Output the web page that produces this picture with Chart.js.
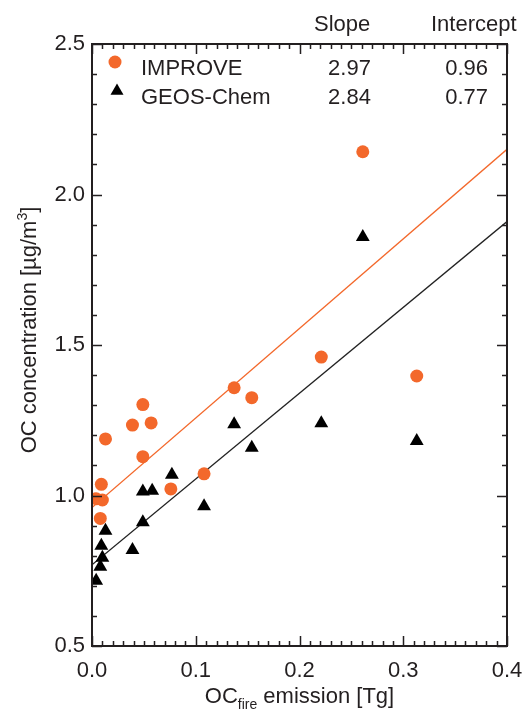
<!DOCTYPE html>
<html><head><meta charset="utf-8">
<script src="https://cdn.jsdelivr.net/npm/chart.js@4"></script>
<style>html,body{margin:0;padding:0;background:#fff}canvas{display:block}</style>
</head><body>
<div style="width:526px;height:709px"><canvas id="c" width="526" height="709"></canvas></div>
<script>
// ---- data ----
const improveX = [0.261, 0.137, 0.154, 0.221, 0.313, 0.049, 0.039, 0.057, 0.013, 0.049, 0.009, 0.004, 0.010, 0.008, 0.076, 0.108];
const improveY = [2.142, 1.358, 1.325, 1.460, 1.397, 1.302, 1.234, 1.241, 1.188, 1.129, 1.037, 0.989, 0.985, 0.924, 1.022, 1.072];
const geosX = [0.261, 0.137, 0.154, 0.221, 0.313, 0.077, 0.049, 0.058, 0.108, 0.049, 0.013, 0.009, 0.039, 0.010, 0.008, 0.004];
const geosY = [1.859, 1.237, 1.159, 1.240, 1.181, 1.069, 1.013, 1.016, 0.964, 0.911, 0.883, 0.833, 0.819, 0.793, 0.763, 0.717];
const fitX = [0.0, 0.4];
const improveFitY = [0.96, 2.15];
const geosFitY = [0.77, 1.91];
const xTicks = [0.0, 0.1, 0.2, 0.3, 0.4];
const yTicks = [0.5, 1.0, 1.5, 2.0, 2.5];
const seriesNames = ['IMPROVE', 'GEOS-Chem'];
const slopes = ['2.97', '2.84'];
const intercepts = ['0.96', '0.77'];
const headers = ['Slope', 'Intercept'];

const ORANGE = '#f3682b';
const BLACK = '#000000';
const TXT = '#231f20';
const FONT = '"Liberation Sans", Arial, Helvetica, sans-serif';

const pts = (xs, ys) => xs.map((x, i) => ({x: x, y: ys[i]}));

const overlay = {
  id: 'overlay',
  afterDatasetsDraw(chart) {
    const ctx = chart.ctx;
    const a = chart.chartArea;
    const xs = chart.scales.x, ys = chart.scales.y;
    ctx.save();
    ctx.strokeStyle = TXT;
    ctx.lineWidth = 2;
    ctx.strokeRect(a.left, a.top, a.right - a.left, a.bottom - a.top);
    ctx.lineWidth = 1.5;
    ctx.beginPath();
    for (let i = 0; i <= 40; i++) {
      const px = Math.round(xs.getPixelForValue(i / 100)) + 0.5;
      const len = (i % 10 === 0) ? 10 : 5;
      ctx.moveTo(px, a.bottom); ctx.lineTo(px, a.bottom - len);
      ctx.moveTo(px, a.top); ctx.lineTo(px, a.top + len);
    }
    for (let i = 5; i <= 25; i++) {
      const py = Math.round(ys.getPixelForValue(i / 10)) + 0.5;
      const len = (i % 5 === 0) ? 10 : 5;
      ctx.moveTo(a.left, py); ctx.lineTo(a.left + len, py);
      ctx.moveTo(a.right, py); ctx.lineTo(a.right - len, py);
    }
    ctx.stroke();
    ctx.restore();
  },
  afterDraw(chart) {
    const ctx = chart.ctx;
    const a = chart.chartArea;
    ctx.save();
    ctx.fillStyle = TXT;
    ctx.textBaseline = 'alphabetic';
    const big = '22px ' + FONT, small = '14px ' + FONT;
    ctx.font = big;
    ctx.textAlign = 'left';
    ctx.fillText(headers[0], 314, 31);
    ctx.fillText(headers[1], 431, 31);
    const rowsY = [75, 104];
    for (let r = 0; r < 2; r++) {
      ctx.textAlign = 'left';
      ctx.fillText(seriesNames[r], 141, rowsY[r]);
      ctx.textAlign = 'center';
      ctx.fillText(slopes[r], 349.5, rowsY[r]);
      ctx.textAlign = 'right';
      ctx.fillText(intercepts[r], 488, rowsY[r]);
    }
    ctx.fillStyle = ORANGE;
    ctx.beginPath(); ctx.arc(115, 62, 6.5, 0, Math.PI * 2); ctx.fill();
    ctx.fillStyle = BLACK;
    const tr = 7.5, tx = 117, ty = 91;
    ctx.beginPath();
    ctx.moveTo(tx, ty - tr);
    ctx.lineTo(tx + tr * Math.sin(2 * Math.PI / 3), ty - tr * Math.cos(2 * Math.PI / 3));
    ctx.lineTo(tx + tr * Math.sin(4 * Math.PI / 3), ty - tr * Math.cos(4 * Math.PI / 3));
    ctx.closePath(); ctx.fill();
    ctx.fillStyle = TXT;
    ctx.textAlign = 'left';
    const parts = [['OC', big, 0], ['fire', small, 6], [' emission [Tg]', big, 0]];
    let w = 0;
    parts.forEach(p => { ctx.font = p[1]; w += ctx.measureText(p[0]).width; });
    let x0 = (a.left + a.right) / 2 - w / 2;
    const base = 703;
    parts.forEach(p => { ctx.font = p[1]; ctx.fillText(p[0], x0, base + p[2]); x0 += ctx.measureText(p[0]).width; });
    const yparts = [['OC concentration [\u00b5g/m', big, 0], ['3', small, -9], [']', big, 0]];
    let wy = 0;
    yparts.forEach(p => { ctx.font = p[1]; wy += ctx.measureText(p[0]).width; });
    ctx.translate(36, 330);
    ctx.rotate(-Math.PI / 2);
    let y0 = -wy / 2;
    yparts.forEach(p => { ctx.font = p[1]; ctx.fillText(p[0], y0, p[2]); y0 += ctx.measureText(p[0]).width; });
    ctx.restore();
  }
};

new Chart(document.getElementById('c'), {
  type: 'scatter',
  data: {
    datasets: [
      { label: seriesNames[0] + ' fit', type: 'line', data: pts(fitX, improveFitY), borderColor: ORANGE, borderWidth: 1.3, pointRadius: 0, fill: false, order: 3 },
      { label: seriesNames[1] + ' fit', type: 'line', data: pts(fitX, geosFitY), borderColor: '#222', borderWidth: 1.3, pointRadius: 0, fill: false, order: 3 },
      { label: seriesNames[0], data: pts(improveX, improveY), pointStyle: 'circle', pointRadius: 6.5, pointBackgroundColor: ORANGE, pointBorderWidth: 0, borderColor: ORANGE, order: 2 },
      { label: seriesNames[1], data: pts(geosX, geosY), pointStyle: 'triangle', pointRadius: 8, pointBackgroundColor: BLACK, pointBorderWidth: 0, borderColor: BLACK, order: 1 }
    ]
  },
  options: {
    responsive: false,
    animation: false,
    layout: { padding: { left: 0, top: 44, right: 19, bottom: 0 } },
    plugins: { legend: { display: false }, tooltip: { enabled: false } },
    scales: {
      x: {
        type: 'linear', min: 0, max: 0.4,
        afterBuildTicks: s => { s.ticks = xTicks.map(v => ({ value: v })); },
        afterFit: s => { s.height = 63; s.paddingLeft = 0; s.paddingRight = 0; },
        grid: { display: false, drawTicks: false },
        border: { display: false },
        ticks: { padding: 12, color: TXT, font: { family: FONT, size: 22 }, maxRotation: 0, callback: v => Number(v).toFixed(1) }
      },
      y: {
        type: 'linear', min: 0.5, max: 2.5,
        afterBuildTicks: s => { s.ticks = yTicks.map(v => ({ value: v })); },
        afterFit: s => { s.width = 92; s.paddingTop = 0; s.paddingBottom = 0; },
        grid: { display: false, drawTicks: false },
        border: { display: false },
        ticks: { padding: 7, color: TXT, font: { family: FONT, size: 22 }, callback: v => Number(v).toFixed(1) }
      }
    }
  },
  plugins: [overlay]
});
</script>
</body></html>
